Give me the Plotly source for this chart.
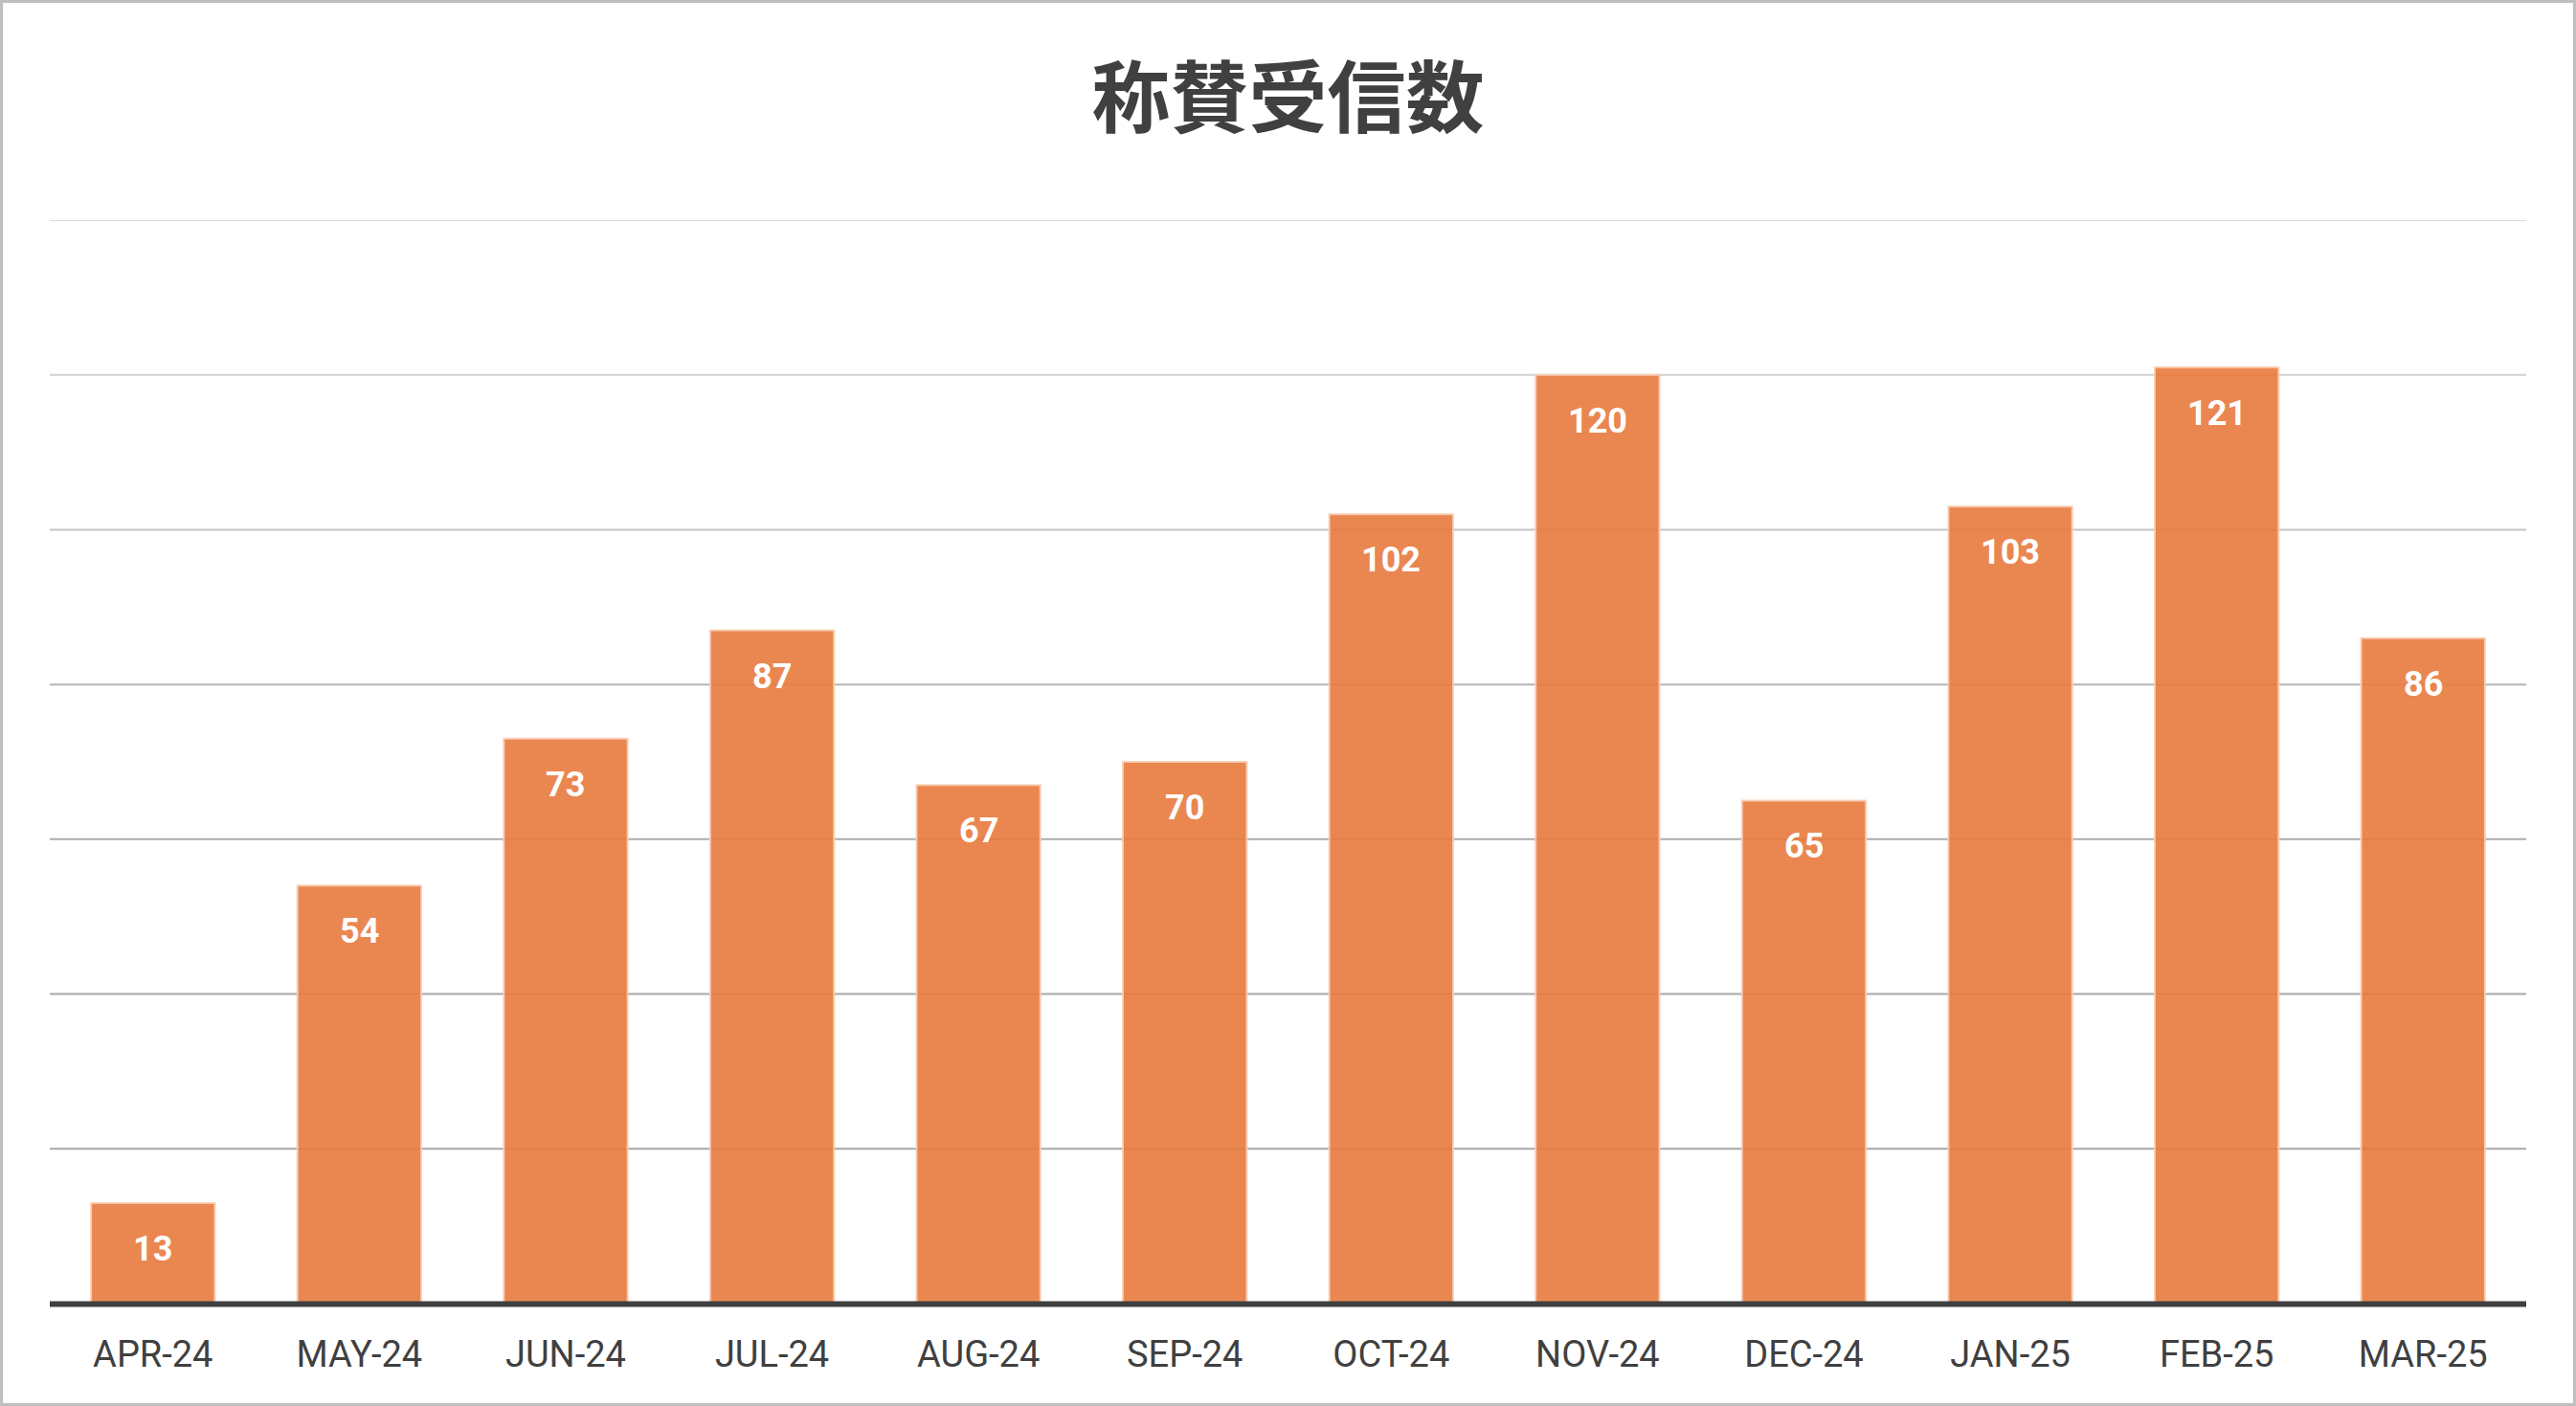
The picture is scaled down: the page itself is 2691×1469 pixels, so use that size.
import plotly.graph_objects as go

months = ["APR-24", "MAY-24", "JUN-24", "JUL-24", "AUG-24", "SEP-24",
          "OCT-24", "NOV-24", "DEC-24", "JAN-25", "FEB-25", "MAR-25"]
counts = [13, 54, 73, 87, 67, 70, 102, 120, 65, 103, 121, 86]
grid_values = [20, 40, 60, 80, 100, 120, 140]
grid_colors = ["#a6a6a6", "#a8a8a8", "#acacac", "#b4b4b4", "#c4c4c4", "#d0d0d0", "#dcdcdc"]
title_text = "称賛受信数"

W, H = 2691, 1469
ML, MR, MT, MB = 52, 52, 230, 107

fig = go.Figure()
fig.add_trace(go.Bar(
    x=months, y=counts,
    marker=dict(color="rgba(232,122,62,0.9)",
                line=dict(color="rgba(250,205,180,0.9)", width=2)),
    hoverinfo="skip",
))

pw, ph = W - ML - MR, H - MT - MB
shapes = []
for v, c in zip(grid_values, grid_colors):
    shapes.append(dict(type="line", xref="paper", yref="y", x0=0, x1=1, y0=v, y1=v,
                       line=dict(color=c, width=2), layer="below"))
shapes.append(dict(type="line", xref="paper", yref="paper", x0=0, x1=1,
                   y0=-0.5 / ph, y1=-0.5 / ph,
                   line=dict(color="#404040", width=6), layer="above"))
shapes.append(dict(type="rect", xref="paper", yref="paper",
                   x0=-(ML - 1.5) / pw, x1=1 + (MR - 1.5) / pw,
                   y0=-(MB - 1.5) / ph, y1=1 + (MT - 1.5) / ph,
                   line=dict(color="#bfbfbf", width=3), layer="above"))

annotations = []
for m, v in zip(months, counts):
    annotations.append(dict(x=m, y=v, xref="x", yref="y", text=str(v), showarrow=False,
                            yanchor="top", yshift=-25,
                            font=dict(family="Roboto, Noto Sans, sans-serif", size=36,
                                      color="white", weight="bold")))

fig.update_layout(
    width=W, height=H,
    margin=dict(l=ML, r=MR, t=MT, b=MB),
    paper_bgcolor="white", plot_bgcolor="white",
    bargap=0.4,
    showlegend=False,
    title=dict(text=title_text, x=0.5, xanchor="center", y=1 - 103 / H, yanchor="middle",
               font=dict(family="Noto Sans CJK JP", size=82, color="#404040", weight="bold")),
    xaxis=dict(showgrid=False, showline=False, zeroline=False,
               ticks="outside", ticklen=19, tickcolor="rgba(0,0,0,0)",
               tickfont=dict(family="Roboto, Noto Sans, sans-serif", size=38, color="#404040")),
    yaxis=dict(range=[0, 140], showgrid=False, zeroline=False, showticklabels=False,
               showline=False),
    shapes=shapes,
    annotations=annotations,
)

fig.write_html("out.html", config={"displayModeBar": False},
               post_script="document.body.style.margin='0';document.body.style.overflow='hidden';")
